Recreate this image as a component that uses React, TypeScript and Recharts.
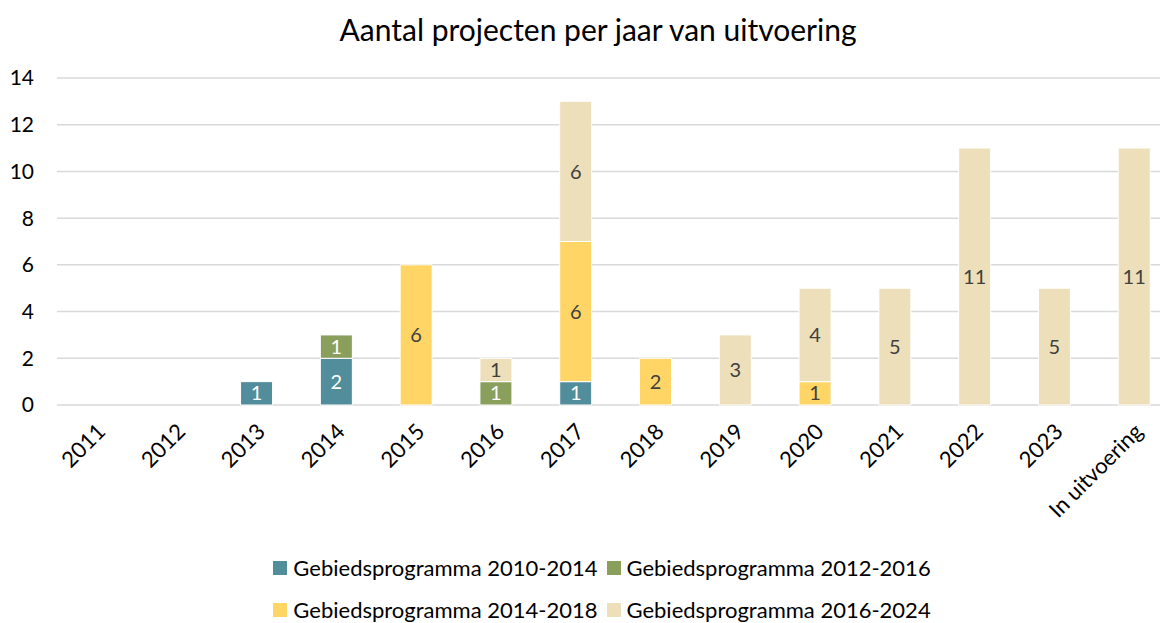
import React from 'react';
import { BarChart, Bar, XAxis, YAxis, CartesianGrid, LabelList } from 'recharts';

const categories = ['2011', '2012', '2013', '2014', '2015', '2016', '2017', '2018', '2019', '2020', '2021', '2022', '2023', 'In uitvoering'];
const gp2010_2014 = [null, null, 1, 2, null, null, 1, null, null, null, null, null, null, null];
const gp2012_2016 = [null, null, null, 1, null, 1, null, null, null, null, null, null, null, null];
const gp2014_2018 = [null, null, null, null, 6, null, 6, 2, null, 1, null, null, null, null];
const gp2016_2024 = [null, null, null, null, null, 1, 6, null, 3, 4, 5, 11, 5, 11];
const yTicks = [0, 2, 4, 6, 8, 10, 12, 14];

const seriesNames = ['Gebiedsprogramma 2010-2014', 'Gebiedsprogramma 2012-2016', 'Gebiedsprogramma 2014-2018', 'Gebiedsprogramma 2016-2024'];
const seriesKeys = ['a', 'b', 'c', 'd'];
const seriesColors = ['#528D9B', '#8A9F5C', '#FFD566', '#EDDFB9'];
const labelColors = ['#FFFFFF', '#FFFFFF', '#404040', '#404040'];

const data = categories.map((cat, i) => ({
  cat,
  a: gp2010_2014[i],
  b: gp2012_2016[i],
  c: gp2014_2018[i],
  d: gp2016_2024[i],
}));

const FONT = 'Lato, "Open Sans", sans-serif';

const XTick = (props: any) => {
  const { x, y, payload } = props;
  const ax = x + 10;
  const ay = y + 28;
  return (
    <text
      x={ax}
      y={ay}
      textAnchor="end"
      transform={`rotate(-45 ${ax} ${ay})`}
      fontSize={22}
      fontFamily={FONT}
      fill="#000"
    >
      {payload.value}
    </text>
  );
};

const fmt = (v: any) => (v ? String(v) : '');

export default function App() {
  return (
    <div style={{ position: 'relative', width: 1168, height: 623, marginLeft: -8, marginTop: -8, overflow: 'hidden', background: '#fff', fontFamily: FONT }}>
      <div style={{ position: 'absolute', left: 0, width: 1196, top: 11, textAlign: 'center', fontSize: 30, color: '#000', lineHeight: '36px' }}>
        Aantal projecten per jaar van uitvoering
      </div>
      <BarChart
        width={1190}
        height={623}
        data={data}
        margin={{ top: 78, right: 16, left: 0, bottom: 0 }}
        barSize={32}
      >
        <CartesianGrid vertical={false} stroke="#D9D9D9" strokeWidth={1.5} />
        <XAxis
          dataKey="cat"
          height={218}
          axisLine={false}
          tickLine={false}
          tickSize={0}
          tickMargin={0}
          interval={0}
          tick={<XTick />}
        />
        <YAxis
          width={57}
          domain={[0, 14]}
          ticks={yTicks}
          axisLine={false}
          tickLine={false}
          tickSize={0}
          tickMargin={23}
          tick={{ fontSize: 21, fontFamily: FONT, fill: '#000' }}
        />
        {seriesKeys.map((k, i) => (
          <Bar key={k} dataKey={k} stackId="s" fill={seriesColors[i]} stroke="#FFFFFF" strokeWidth={1} isAnimationActive={false}>
            <LabelList dataKey={k} position="center" formatter={fmt} fill={labelColors[i]} fontSize={20} fontFamily={FONT} />
          </Bar>
        ))}
      </BarChart>
      {[[0, 1], [2, 3]].map((row, r) => (
        <div
          key={r}
          style={{ position: 'absolute', left: 0, width: 1204, top: r === 0 ? 554 : 596, display: 'flex', justifyContent: 'center', fontSize: 22, color: '#000', lineHeight: '28px' }}
        >
          {row.map((si) => (
            <div key={si} style={{ display: 'flex', alignItems: 'center', marginRight: si % 2 === 0 ? 9 : 0 }}>
              <span style={{ display: 'inline-block', width: 14, height: 14, background: seriesColors[si], marginRight: 6 }} />
              <span>{seriesNames[si]}</span>
            </div>
          ))}
        </div>
      ))}
    </div>
  );
}
